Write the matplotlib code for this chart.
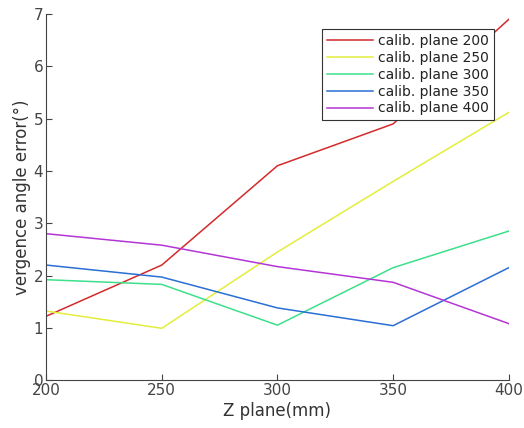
import matplotlib

matplotlib.use("Agg")
import matplotlib.pyplot as plt

z_plane = [200, 250, 300, 350, 400]
calib_200 = [1.22, 2.2, 4.1, 4.9, 6.9]
calib_250 = [1.32, 0.99, 2.45, 3.8, 5.12]
calib_300 = [1.92, 1.83, 1.05, 2.15, 2.85]
calib_350 = [2.2, 1.97, 1.38, 1.04, 2.15]
calib_400 = [2.8, 2.58, 2.17, 1.87, 1.08]

series = [
    ("calib. plane 200", calib_200, "#d42a2a"),
    ("calib. plane 250", calib_250, "#e2ee3a"),
    ("calib. plane 300", calib_300, "#3de08a"),
    ("calib. plane 350", calib_350, "#2a6fd4"),
    ("calib. plane 400", calib_400, "#b535d4"),
]

fig = plt.figure(figsize=(5.24, 4.28), dpi=100)
ax = fig.add_axes([0.088, 0.112, 0.883, 0.855])
for label, vals, color in series:
    ax.plot(z_plane, vals, color=color, lw=1.1, label=label)

ax.set_xlim(200, 400)
ax.set_ylim(0, 7)
ax.set_xticks(z_plane)
ax.set_yticks(range(8))
for side in ("top", "right"):
    ax.spines[side].set_visible(False)
for side in ("left", "bottom"):
    ax.spines[side].set_color("#444444")
ax.tick_params(direction="in", length=4, colors="#444444", labelsize=11, pad=2)
ax.set_xlabel("Z plane(mm)", fontsize=12, color="#333333", labelpad=3)
ax.set_ylabel("vergence angle error(°)", fontsize=12, color="#333333", labelpad=2)

leg = ax.legend(loc="upper right", bbox_to_anchor=(0.968, 0.958), fontsize=10,
                frameon=True, fancybox=False, borderpad=0.35, labelspacing=0.2,
                handlelength=3.3, handletextpad=0.4, borderaxespad=0,
                framealpha=1)
leg.get_frame().set_edgecolor("#333333")
leg.get_frame().set_linewidth(0.8)
for t in leg.get_texts():
    t.set_color("#222222")

fig.savefig("out.png", dpi=100)
